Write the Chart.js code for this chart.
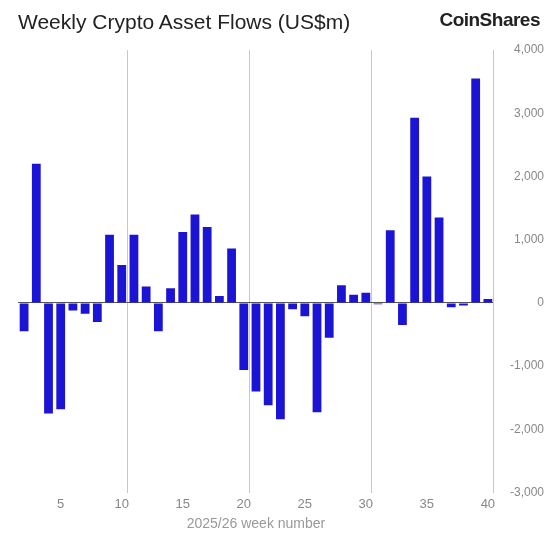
<!DOCTYPE html>
<html><head><meta charset="utf-8">
<script src="https://cdn.jsdelivr.net/npm/chart.js@4/dist/chart.umd.min.js"></script>
<style>
body{margin:0;background:#fff;font-family:"Liberation Sans",Arial,sans-serif;}
#wrap{position:relative;width:556px;height:533px;}
#title{position:absolute;left:18px;top:10px;font-size:21px;color:#222;}
#logo{position:absolute;right:16px;top:9px;font-size:19px;color:#222;font-weight:bold;letter-spacing:-0.5px;}
#c{position:absolute;left:0;top:0;}
</style></head><body>
<div id="wrap"><canvas id="c" width="556" height="533"></canvas>
<div id="title">Weekly Crypto Asset Flows (US$m)</div>
<div id="logo">CoinShares</div></div>
<script>
const weeks=[];for(let w=2;w<=40;w++)weeks.push(String(w));
const flows=[-450,2200,-1750,-1680,-120,-170,-300,1080,600,1080,260,-450,230,1120,1400,1200,110,860,-1060,-1400,-1620,-1840,-100,-210,-1730,-550,280,130,160,-20,1150,-350,2930,2000,1350,-70,-40,3550,60];
const yTicks=[-3000,-2000,-1000,0,1000,2000,3000,4000];
new Chart(document.getElementById('c'),{type:'bar',
data:{labels:weeks,datasets:[{data:flows,backgroundColor:'#1c14d4',barPercentage:0.72,categoryPercentage:1}]},
options:{responsive:false,animation:false,devicePixelRatio:1,
layout:{padding:{top:50,left:18,right:12,bottom:0}},
plugins:{legend:{display:false},tooltip:{enabled:false}},
scales:{
x:{grid:{offset:true,color:c=>[9,19,29].includes(c.index)?'#c8c8c8':'rgba(0,0,0,0)',drawTicks:false},
border:{display:false},
ticks:{autoSkip:false,maxRotation:0,color:'#888',font:{size:13},padding:4,callback:function(v,i){const l=weeks[i];return (+l)%5===0?l:'';}},
title:{display:true,text:'2025/26 week number',color:'#999',font:{size:14},padding:{top:0,bottom:0}}},
y:{position:'right',min:-3000,max:4000,afterBuildTicks:a=>{a.ticks=yTicks.map(v=>({value:v}));},
grid:{color:c=>c.tick&&c.tick.value===0?'#555':'rgba(0,0,0,0)',drawTicks:false,lineWidth:1},
border:{display:true,color:'#c8c8c8'},
ticks:{color:'#888',font:{size:12},padding:8,crossAlign:'far',callback:v=>v.toLocaleString('en-US')}}
}}});
</script></body></html>
